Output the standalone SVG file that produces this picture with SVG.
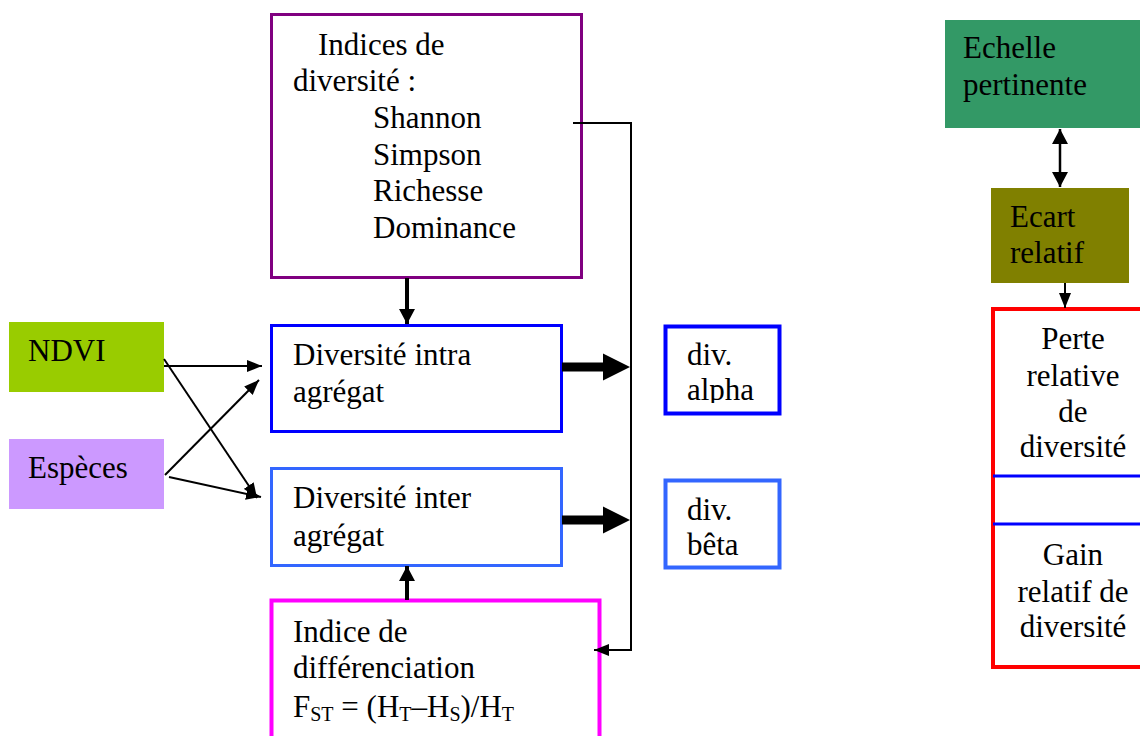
<svg xmlns="http://www.w3.org/2000/svg" width="1140" height="736" viewBox="0 0 1140 736" font-family="'Liberation Serif', 'DejaVu Serif', serif">
<style>
text{font-family:'Liberation Serif','DejaVu Serif',serif;font-size:31px;fill:#000}
.box{fill:#fff}
.c{stroke:#000;stroke-width:2;fill:none}
.ctr{text-anchor:middle}
.sub{font-size:20px}
</style>
<defs>
<marker id="ah" markerUnits="userSpaceOnUse" markerWidth="16" markerHeight="12" refX="15" refY="6" orient="auto">
<path d="M0,0 L15,6 L0,12 Z" fill="#000"/>
</marker>
<marker id="ahb" markerUnits="userSpaceOnUse" markerWidth="16" markerHeight="16" refX="15" refY="8" orient="auto-start-reverse">
<path d="M0,0 L15,8 L0,16 Z" fill="#000"/>
</marker>
<clipPath id="clipA"><rect x="664" y="325" width="117" height="78"/></clipPath>
<clipPath id="clipB"><rect x="664" y="479" width="117" height="79"/></clipPath>
</defs>
<rect width="1140" height="736" fill="#fff"/>

<g id="indices">
<rect class="box" x="271.5" y="14.5" width="310" height="263" stroke="#800080" stroke-width="3"/>
<text x="318" y="55">Indices de</text>
<text x="293" y="91">diversité :</text>
<text x="373" y="128">Shannon</text>
<text x="373" y="165">Simpson</text>
<text x="373" y="201">Richesse</text>
<text x="373" y="238">Dominance</text>
</g>

<g id="intra">
<rect class="box" x="271.5" y="325.5" width="290" height="106" stroke="#0000FF" stroke-width="3"/>
<text x="293" y="365">Diversité intra</text>
<text x="293" y="402">agrégat</text>
</g>

<g id="inter">
<rect class="box" x="271.5" y="468.5" width="290" height="97" stroke="#3366FF" stroke-width="3"/>
<text x="293" y="508">Diversité inter</text>
<text x="293" y="546">agrégat</text>
</g>

<g id="differenciation">
<rect class="box" x="271.5" y="600.5" width="328" height="150" stroke="#FF00FF" stroke-width="4"/>
<text x="293" y="642">Indice de</text>
<text x="293" y="678">différenciation</text>
<text x="293" y="717">F<tspan class="sub" dy="4">ST</tspan><tspan dy="-4"> = (H</tspan><tspan class="sub" dy="4">T</tspan><tspan dy="-4">–H</tspan><tspan class="sub" dy="4">S</tspan><tspan dy="-4">)/H</tspan><tspan class="sub" dy="4">T</tspan></text>
</g>

<g id="ndvi">
<rect x="9" y="322" width="155" height="70" fill="#99CC00"/>
<text x="28" y="361">NDVI</text>
</g>

<g id="especes">
<rect x="9" y="439" width="155" height="70" fill="#CC99FF"/>
<text x="28" y="478">Espèces</text>
</g>

<g id="alpha">
<rect class="box" x="665.5" y="326.5" width="114" height="87" stroke="#0000FF" stroke-width="4"/>
<g clip-path="url(#clipA)">
<text x="687" y="365">div.</text>
<text x="687" y="400">alpha</text>
</g>
</g>

<g id="beta">
<rect class="box" x="665.5" y="480.5" width="114" height="87" stroke="#3366FF" stroke-width="4"/>
<g clip-path="url(#clipB)">
<text x="687" y="520">div.</text>
<text x="687" y="555">bêta</text>
</g>
</g>

<g id="echelle">
<rect x="945" y="20" width="195" height="108" fill="#339966"/>
<text x="963" y="58">Echelle</text>
<text x="963" y="95">pertinente</text>
</g>

<g id="ecart">
<rect x="991" y="188" width="138" height="95" fill="#808000"/>
<text x="1010" y="227">Ecart</text>
<text x="1010" y="263">relatif</text>
</g>

<g id="perte-gain">
<rect class="box" x="993" y="309" width="160" height="358" stroke="#FF0000" stroke-width="4"/>
<line x1="993" y1="476" x2="1140" y2="476" stroke="#0000FF" stroke-width="3"/>
<line x1="993" y1="524" x2="1140" y2="524" stroke="#0000FF" stroke-width="3"/>
<text class="ctr" x="1073" y="349">Perte</text>
<text class="ctr" x="1073" y="386">relative</text>
<text class="ctr" x="1073" y="422">de</text>
<text class="ctr" x="1073" y="457">diversité</text>
<text class="ctr" x="1073" y="565">Gain</text>
<text class="ctr" x="1073" y="602">relatif de</text>
<text class="ctr" x="1073" y="637">diversité</text>
</g>

<g id="connectors">
<line class="c" x1="164" y1="366" x2="262" y2="366" marker-end="url(#ah)"/>
<line class="c" x1="164" y1="359" x2="257" y2="498" marker-end="url(#ah)"/>
<line class="c" x1="165" y1="475" x2="259" y2="380" marker-end="url(#ah)"/>
<line class="c" x1="169" y1="477" x2="261" y2="497" marker-end="url(#ah)"/>
<line x1="407" y1="278" x2="407" y2="324" stroke="#000" stroke-width="4" marker-end="url(#ahb)"/>
<line x1="407" y1="600" x2="407" y2="566" stroke="#000" stroke-width="4" marker-end="url(#ahb)"/>
<polyline class="c" points="573,123 631,123 631,650 594,650" marker-end="url(#ah)"/>
<polygon points="562,362.5 603,362.5 603,353.5 630,367 603,380.5 603,371.5 562,371.5" fill="#000"/>
<polygon points="562,515.5 603,515.5 603,506.5 630,520 603,533.5 603,524.5 562,524.5" fill="#000"/>
<line x1="1060" y1="129" x2="1060" y2="187" stroke="#000" stroke-width="2.5" marker-start="url(#ahb)" marker-end="url(#ahb)"/>
<line x1="1065" y1="283" x2="1065" y2="308" stroke="#000" stroke-width="2" marker-end="url(#ah)"/>
</g>
</svg>
